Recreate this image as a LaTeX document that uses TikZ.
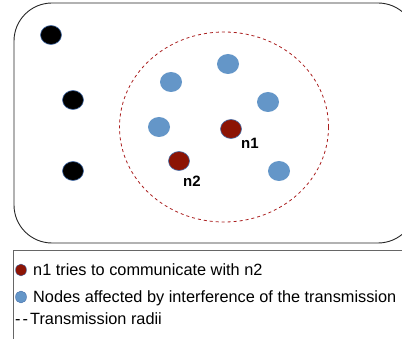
\documentclass[tikz,border=0pt]{standalone}
\usepackage{fontspec}
\setmainfont{Liberation Sans}
\usetikzlibrary{shapes.geometric}
\definecolor{nred}{RGB}{140,20,5}
\definecolor{nblue}{RGB}{100,150,200}
\definecolor{rimblue}{RGB}{70,110,170}
\definecolor{dashred}{RGB}{170,30,30}
\begin{document}
\begin{tikzpicture}[x=1pt,y=-1pt,
  blk/.style={ellipse,fill=black,draw=rimblue,line width=0.6pt,minimum width=21pt,minimum height=19pt,inner sep=0pt},
  blu/.style={ellipse,fill=nblue,draw=none,minimum width=22pt,minimum height=20pt,inner sep=0pt},
  red/.style={ellipse,fill=nred,draw=rimblue,line width=0.6pt,minimum width=21pt,minimum height=19pt,inner sep=0pt},
  key/.style={ellipse,draw=rimblue,line width=0.4pt,minimum width=11pt,minimum height=12pt,inner sep=0pt},
  lab/.style={font=\fontsize{15}{16}\selectfont\bfseries,inner sep=0pt},
  leg/.style={font=\fontsize{16.3}{18}\selectfont,inner sep=0pt,anchor=base west}]
\useasboundingbox (0,0) rectangle (402,339);
\begin{scope}
\clip (0,0) rectangle (402,339);
\draw[black!85,line width=0.9pt,rounded corners=38pt] (14,3) rectangle (416,243);
\draw[black!60,line width=0.8pt] (13,250) rectangle (430,360);
\end{scope}
\node[draw=dashred,dashed,line width=0.8pt,ellipse,minimum width=209pt,minimum height=190pt,inner sep=0pt] (range) at (224,127) {};
\node[blk] (b1) at (51,35) {};
\node[blk] (b2) at (73,100) {};
\node[blk] (b3) at (73,171) {};
\node[blu] (u1) at (171,82) {};
\node[blu] (u2) at (228,64) {};
\node[blu] (u3) at (268,102) {};
\node[blu] (u4) at (159,127) {};
\node[blu] (u5) at (279,171) {};
\node[red] (n1) at (231,129) {};
\node[red] (n2) at (179,161) {};
\node[lab] (l1) at (250,143) {n1};
\node[lab] (l2) at (192,181) {n2};
\node[key,fill=nred] (k1) at (21,270) {};
\node[key,fill=nblue] (k2) at (21,297) {};
\node[leg] (t1) at (33,276) {n1 tries to communicate with n2};
\node[leg] (t2) at (33,303) {Nodes affected by interference of the transmission};
\node[leg] (d3) at (15,325) {-\hspace{2pt}-};
\node[leg] (t3) at (30,325) {Transmission radii};
\end{tikzpicture}
\end{document}
